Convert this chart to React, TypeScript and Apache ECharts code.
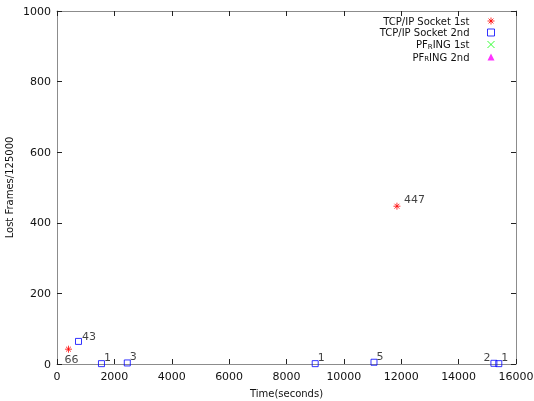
import React, { useEffect, useRef } from "react";
import * as echarts from "echarts";

const seriesNames = ["TCP/IP Socket 1st", "TCP/IP Socket 2nd", "PF_RING 1st", "PF_RING 2nd"];
const legendLabels = ["{e|TCP/IP Socket 1st}", "{e|TCP/IP Socket 2nd}", "{t|PF}{s|R}{e|ING 1st}", "{t|PF}{s|R}{e|ING 2nd}"];

const tcp1X = [400, 11850];
const tcp1Y = [42, 447];
const tcp1Labels = ["66", "447"];

const tcp2X = [750, 1550, 2450, 9000, 11050, 15230, 15400];
const tcp2Y = [64, 1, 3, 1, 5, 2, 1];
const tcp2Labels = ["43", "1", "3", "1", "5", "2", "1"];

const pf1X: number[] = [];
const pf1Y: number[] = [];
const pf2X: number[] = [];
const pf2Y: number[] = [];

const xTicks = { min: 0, max: 16000, interval: 2000 };
const yTicks = { min: 0, max: 1000, interval: 200 };

const FONT = "DejaVu Sans";
const AXIS_COLOR = "#8c8c8c";

const starPath = "path://M4,0L4,8M0,4L8,4M1.2,1.2L6.8,6.8M6.8,1.2L1.2,6.8";
const crossPath = "path://M0,0L8,8M8,0L0,8";

const seriesStyles = [
  { symbol: starPath, itemStyle: { color: "rgba(0,0,0,0)", borderColor: "#ff0000", borderWidth: 1 } },
  { symbol: "rect", itemStyle: { color: "rgba(255,255,255,0)", borderColor: "#0000ff", borderWidth: 1 } },
  { symbol: crossPath, itemStyle: { color: "rgba(0,0,0,0)", borderColor: "#00ff00", borderWidth: 1 } },
  { symbol: "triangle", itemStyle: { color: "#ff00ff" } },
];

export default function App() {
  const ref = useRef<HTMLDivElement>(null);
  useEffect(() => {
    if (!ref.current) return;
    const chart = echarts.init(ref.current, undefined, { renderer: "svg" });
    const lbl = (text: string, pos: string, off: number[]) => ({
      show: true,
      formatter: text,
      position: pos,
      offset: off,
      color: "#111",
      fontFamily: FONT,
      fontSize: 11,
    });
    const tcp1Pos: [string, number[]][] = [["bottom", [3, -4]], ["right", [-2, -7]]];
    const tcp2Pos: [string, number[]][] = [
      ["right", [-5, -5]],
      ["right", [-6, -6]],
      ["right", [-6, -6]],
      ["right", [-6, -6]],
      ["right", [-6, -6]],
      ["left", [5, -6]],
      ["right", [-6, -6]],
    ];
    const axisCommon = {
      axisLine: { show: true, onZero: false, lineStyle: { color: AXIS_COLOR, width: 1 } },
      axisTick: { show: true, inside: true, length: 5, lineStyle: { color: "#222", width: 1 } },
      splitLine: { show: false },
    };
    const plain = (v: number) => String(v);
    chart.setOption({
      animation: false,
      grid: { left: 57, right: 18, top: 11, bottom: 37, containLabel: false, outerBoundsMode: "none" },
      legend: {
        orient: "vertical",
        right: 39,
        top: 16,
        align: "right",
        itemWidth: 7,
        itemHeight: 7,
        itemGap: 1.5,
        padding: 0,
        data: seriesNames.map((n, i) => ({
          name: n,
          icon: seriesStyles[i].symbol,
          itemStyle: seriesStyles[i].itemStyle,
        })),
        formatter: (name: string) => legendLabels[seriesNames.indexOf(name)],
        textStyle: {
          fontFamily: FONT,
          fontSize: 10,
          color: "#111",
          rich: {
            t: { fontFamily: FONT, fontSize: 10, color: "#111", lineHeight: 11.5 },
            e: { fontFamily: FONT, fontSize: 10, color: "#111", lineHeight: 11.5, padding: [0, 13, 0, 0] },
            s: { fontFamily: FONT, fontSize: 7, color: "#111", lineHeight: 11.5, padding: [4, 0, 0, 0] },
          },
        },
      },
      xAxis: [
        {
          type: "value",
          ...xTicks,
          position: "bottom",
          name: "Time(seconds)",
          nameLocation: "middle",
          nameGap: 24,
          nameMoveOverlap: false,
          nameTextStyle: { fontFamily: FONT, fontSize: 10, color: "#111" },
          axisLabel: { fontFamily: FONT, fontSize: 11, color: "#111", margin: 7, formatter: plain },
          ...axisCommon,
        },
        {
          type: "value",
          ...xTicks,
          position: "top",
          axisLabel: { show: false },
          ...axisCommon,
        },
      ],
      yAxis: [
        {
          type: "value",
          ...yTicks,
          position: "left",
          name: "Lost Frames/125000",
          nameLocation: "middle",
          nameGap: 43,
          nameMoveOverlap: false,
          nameTextStyle: { fontFamily: FONT, fontSize: 10, color: "#111" },
          axisLabel: { fontFamily: FONT, fontSize: 11, color: "#111", margin: 6, formatter: plain },
          ...axisCommon,
        },
        {
          type: "value",
          ...yTicks,
          position: "right",
          axisLabel: { show: false },
          ...axisCommon,
        },
      ],
      series: [
        {
          name: seriesNames[0],
          type: "scatter",
          symbol: seriesStyles[0].symbol,
          symbolSize: 7,
          itemStyle: seriesStyles[0].itemStyle,
          data: tcp1X.map((x, i) => ({
            value: [x, tcp1Y[i]],
            label: lbl(tcp1Labels[i], tcp1Pos[i][0], tcp1Pos[i][1]),
          })),
          z: 3,
        },
        {
          name: seriesNames[1],
          type: "scatter",
          symbol: seriesStyles[1].symbol,
          symbolSize: 6,
          itemStyle: seriesStyles[1].itemStyle,
          data: tcp2X.map((x, i) => ({
            value: [x, tcp2Y[i]],
            label: lbl(tcp2Labels[i], tcp2Pos[i][0], tcp2Pos[i][1]),
          })),
          z: 4,
        },
        {
          name: seriesNames[2],
          type: "scatter",
          symbol: seriesStyles[2].symbol,
          symbolSize: 7,
          itemStyle: seriesStyles[2].itemStyle,
          data: pf1X.map((x, i) => [x, pf1Y[i]]),
        },
        {
          name: seriesNames[3],
          type: "scatter",
          symbol: seriesStyles[3].symbol,
          symbolSize: 6,
          itemStyle: seriesStyles[3].itemStyle,
          data: pf2X.map((x, i) => [x, pf2Y[i]]),
        },
      ],
    });
    return () => chart.dispose();
  }, []);
  return <div ref={ref} style={{ position: "fixed", left: 0, top: 0, width: 534, height: 401 }} />;
}
